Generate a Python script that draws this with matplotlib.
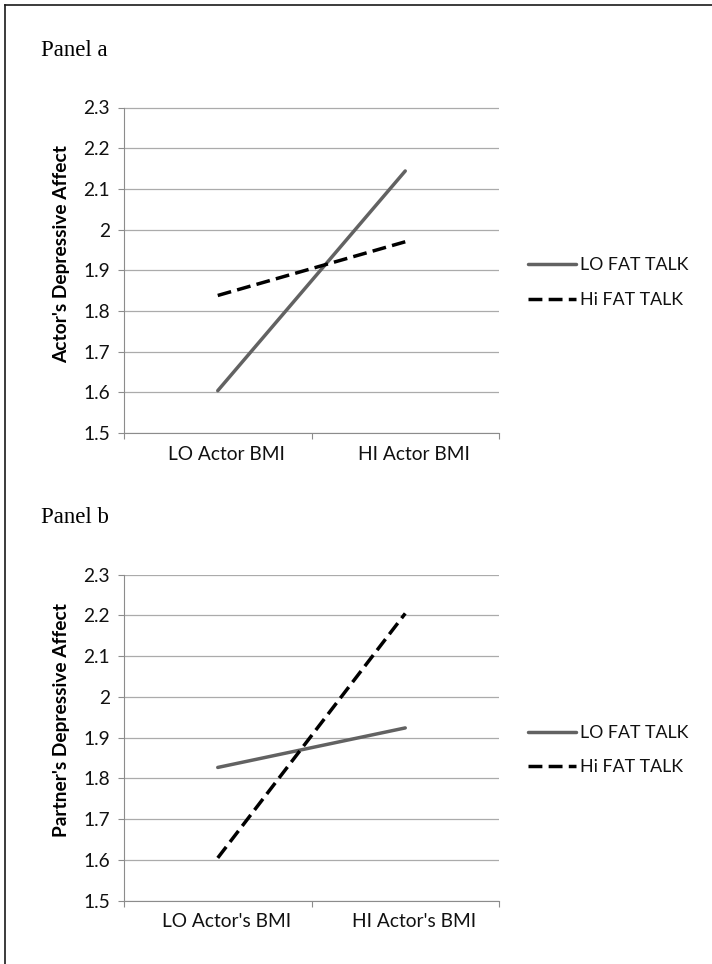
import matplotlib
matplotlib.use("Agg")
import matplotlib.pyplot as plt
import matplotlib.transforms as mtransforms
from matplotlib.lines import Line2D

# ---- data ----
categories_a = ["LO Actor BMI", "HI Actor BMI"]
categories_b = ["LO Actor's BMI", "HI Actor's BMI"]
series_names = ["LO FAT TALK", "Hi FAT TALK"]
panel_a_lo = [1.604, 2.144]
panel_a_hi = [1.838, 1.970]
panel_b_lo = [1.827, 1.924]
panel_b_hi = [1.605, 2.205]
yticks = [1.5, 1.6, 1.7, 1.8, 1.9, 2.0, 2.1, 2.2, 2.3]
ytick_labels = ["1.5", "1.6", "1.7", "1.8", "1.9", "2", "2.1", "2.2", "2.3"]
ylabel_a = "Actor's Depressive Affect"
ylabel_b = "Partner's Depressive Affect"
panel_titles = ["Panel a", "Panel b"]

W, H = 712, 964
DPI = 100
fig = plt.figure(figsize=(W / DPI, H / DPI), dpi=DPI)
fig.patch.set_facecolor("white")

SANS = ["Lato", "DejaVu Sans"]
GRID = "#ababab"
AXC = "#8c8c8c"
SOLID_C = "#626262"
TXT = "#111111"


def px_rect(left, top, right, bottom):
    return [left / W, 1 - bottom / H, (right - left) / W, (bottom - top) / H]


def draw_panel(rect, cats, lo, hi, ylabel, label_y):
    ax = fig.add_axes(rect)
    x = [0, 1]
    ax.plot(x, lo, color=SOLID_C, lw=2.5, solid_capstyle="round",
            label=series_names[0], zorder=3)
    ax.plot(x, hi, color="black", lw=2.5, dashes=(4.0, 1.8),
            dash_capstyle="butt", label=series_names[1], zorder=3)
    ax.set_xlim(-0.5, 1.5)
    ax.set_ylim(1.5, 2.3)
    ax.set_yticks(yticks)
    ax.set_yticklabels(ytick_labels, family=SANS, fontsize=13.8, color=TXT)
    ax.set_xticks([-0.5, 0.5, 1.5], minor=False)
    ax.set_xticklabels(["", "", ""])
    ax.set_xticks(x, minor=True)
    ax.set_xticklabels(cats, minor=True, family=SANS, fontsize=13.8, color=TXT)
    ax.tick_params(axis="x", which="minor", length=0, pad=9)
    ax.tick_params(axis="x", which="major", length=4, width=0.8, color=AXC, direction="out")
    ax.tick_params(axis="y", length=4.5, width=0.8, color=AXC, pad=5.5, direction="out")
    off = mtransforms.ScaledTranslation(8.5 / DPI, 0, fig.dpi_scale_trans)
    for lbl in ax.get_xticklabels(minor=True):
        lbl.set_transform(lbl.get_transform() + off)
    ax.yaxis.grid(True, color=GRID, lw=0.9)
    ax.set_axisbelow(True)
    for s in ["top", "right"]:
        ax.spines[s].set_visible(False)
    ax.spines["left"].set_color(AXC)
    ax.spines["bottom"].set_color(AXC)
    ax.spines["left"].set_linewidth(0.8)
    ax.spines["bottom"].set_linewidth(0.8)
    ax.set_ylabel(ylabel, family=SANS, fontweight="bold", fontsize=13.8, color="black")
    ax.yaxis.set_label_coords(-0.144, label_y)
    leg = ax.legend(loc="center left", bbox_to_anchor=(1.0765, 0.462),
                    frameon=False, borderpad=0, borderaxespad=0,
                    handlelength=2.7, handletextpad=0.22, labelspacing=1.05,
                    prop={"family": SANS, "size": 12.8})
    for t in leg.get_texts():
        t.set_color(TXT)
    return ax


ax_a = draw_panel(px_rect(124, 107.5, 499, 433), categories_a, panel_a_lo, panel_a_hi, ylabel_a, 0.55)
ax_b = draw_panel(px_rect(124, 574.7, 499, 900.7), categories_b, panel_b_lo, panel_b_hi, ylabel_b, 0.554)

fig.text(41 / W, 1 - 56.5 / H, panel_titles[0], family=["Liberation Serif"], fontsize=16.5,
         va="baseline", ha="left")
fig.text(41 / W, 1 - 523 / H, panel_titles[1], family=["Liberation Serif"], fontsize=16.5,
         va="baseline", ha="left")

# outer frame (top and left edges visible)
fig.add_artist(Line2D([5.3 / W, 1.0], [1 - 5 / H, 1 - 5 / H], transform=fig.transFigure,
                      color="#1a1a1a", lw=1.2))
fig.add_artist(Line2D([5.3 / W, 5.3 / W], [0, 1 - 5 / H], transform=fig.transFigure,
                      color="#1a1a1a", lw=1.2))

fig.savefig("out.png", dpi=DPI, facecolor="white")
